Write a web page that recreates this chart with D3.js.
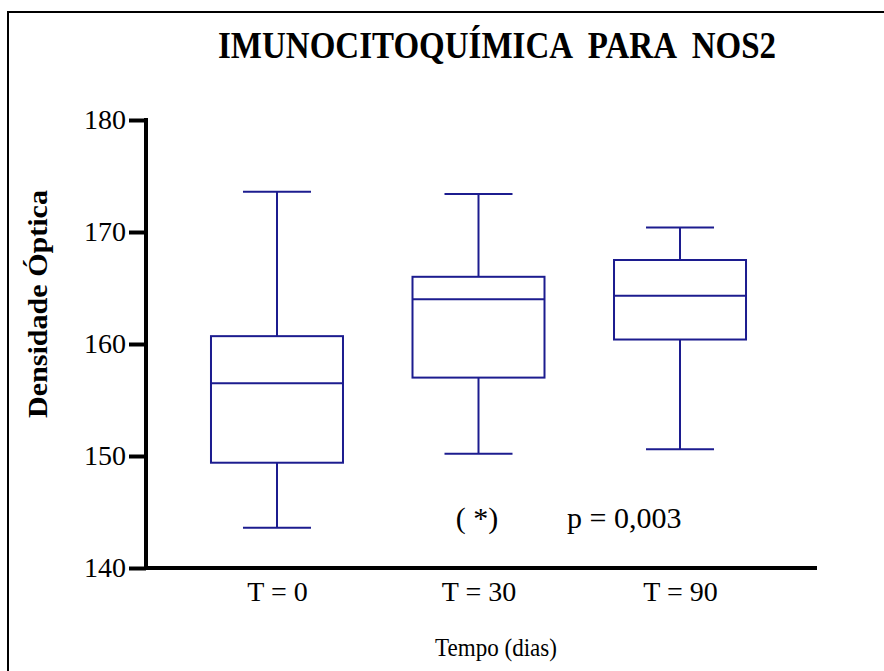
<!DOCTYPE html>
<html><head><meta charset="utf-8">
<script src="https://cdn.jsdelivr.net/npm/d3@7"></script>
<style>body{margin:0;background:#fff}svg{display:block}</style>
</head><body>
<script>
const categories = ["T = 0", "T = 30", "T = 90"];
const mins    = [143.6, 150.2, 150.6];
const q1s     = [149.4, 157.0, 160.4];
const medians = [156.5, 164.0, 164.3];
const q3s     = [160.7, 166.0, 167.5];
const maxs    = [173.6, 173.4, 170.4];
const yTicks  = [140, 150, 160, 170, 180];

const W = 884, H = 671;
const FONT = "'Liberation Serif', 'Times New Roman', serif";
const svg = d3.select("body").append("svg").attr("width", W).attr("height", H)
  .style("font-family", FONT);
const boxColor = "#1c1c8f";

// outer frame
svg.append("rect").attr("x", 8).attr("y", 12).attr("width", W).attr("height", H)
  .attr("fill", "none").attr("stroke", "#000").attr("stroke-width", 2);

const y = d3.scaleLinear().domain([140, 180]).range([568, 120]);
const x = d3.scalePoint().domain(categories).range([146, 811]).padding(0.65);

// y axis
const yAxis = d3.axisLeft(y).tickValues(yTicks).tickSize(17).tickSizeOuter(0).tickPadding(3);
const gy = svg.append("g").attr("transform", "translate(146,0)").call(yAxis)
  .attr("font-family", null).attr("font-size", null);
gy.select(".domain").remove();
gy.selectAll(".tick line").attr("stroke", "#000").attr("stroke-width", 4);
gy.selectAll(".tick text").attr("font-size", 28).attr("fill", "#000").style("font-family", FONT);
svg.append("line").attr("x1", 146).attr("x2", 146).attr("y1", 118).attr("y2", 570)
  .attr("stroke", "#000").attr("stroke-width", 4);

// x axis
svg.append("line").attr("x1", 144).attr("x2", 817).attr("y1", 568).attr("y2", 568)
  .attr("stroke", "#000").attr("stroke-width", 4);
const xAxis = d3.axisBottom(x).tickSize(0).tickPadding(13);
const gx = svg.append("g").attr("transform", "translate(0,568)").call(xAxis)
  .attr("font-family", null).attr("font-size", null);
gx.select(".domain").remove();
gx.selectAll(".tick text").attr("font-size", 28).attr("fill", "#000").style("font-family", FONT);

// boxes
const boxW = 132, capW = 68;
const data = categories.map((c, i) => ({c, min: mins[i], q1: q1s[i], med: medians[i], q3: q3s[i], max: maxs[i]}));
const g = svg.append("g").attr("stroke", boxColor).attr("stroke-width", 2).attr("fill", "none");
data.forEach(d => {
  const cx = x(d.c);
  g.append("line").attr("x1", cx).attr("x2", cx).attr("y1", y(d.max)).attr("y2", y(d.q3));
  g.append("line").attr("x1", cx).attr("x2", cx).attr("y1", y(d.q1)).attr("y2", y(d.min));
  g.append("line").attr("x1", cx - capW/2).attr("x2", cx + capW/2).attr("y1", y(d.max)).attr("y2", y(d.max));
  g.append("line").attr("x1", cx - capW/2).attr("x2", cx + capW/2).attr("y1", y(d.min)).attr("y2", y(d.min));
  g.append("rect").attr("x", cx - boxW/2).attr("y", y(d.q3)).attr("width", boxW).attr("height", y(d.q1) - y(d.q3));
  g.append("line").attr("x1", cx - boxW/2).attr("x2", cx + boxW/2).attr("y1", y(d.med)).attr("y2", y(d.med));
});

// title
svg.append("text").attr("x", 497).attr("y", 58).attr("text-anchor", "middle")
  .attr("font-size", 38).attr("font-weight", "bold").attr("fill", "#000")
  .attr("textLength", 558).attr("lengthAdjust", "spacingAndGlyphs")
  .style("white-space", "pre").text("IMUNOCITOQUÍMICA  PARA  NOS2");

// y label
svg.append("text").attr("transform", "translate(47,304) rotate(-90)").attr("text-anchor", "middle")
  .attr("font-size", 27).attr("font-weight", "bold").attr("fill", "#000")
  .attr("textLength", 228).attr("lengthAdjust", "spacingAndGlyphs")
  .text("Densidade Óptica");

// x label
svg.append("text").attr("x", 496).attr("y", 656).attr("text-anchor", "middle")
  .attr("font-size", 26).attr("fill", "#000")
  .attr("textLength", 122).attr("lengthAdjust", "spacingAndGlyphs")
  .text("Tempo (dias)");

// annotations
svg.append("text").attr("x", 477).attr("y", 528).attr("text-anchor", "middle")
  .attr("font-size", 30).attr("fill", "#000").style("white-space", "pre").text("( *)");
svg.append("text").attr("x", 567).attr("y", 528)
  .attr("font-size", 30).attr("fill", "#000")
  .text("p = 0,003");
</script>
</body></html>
